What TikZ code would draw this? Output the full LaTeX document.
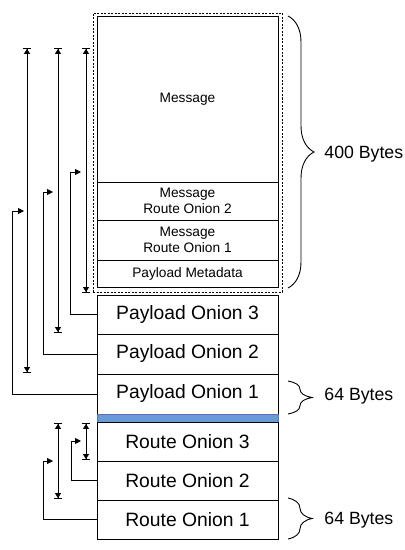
\documentclass[tikz,border=0pt]{standalone}
\usepackage{fontspec}
\setmainfont{Liberation Sans}
\usetikzlibrary{arrows.meta,decorations.pathreplacing}
\definecolor{barblue}{HTML}{6C9BD0}
\definecolor{barline}{HTML}{4A78B5}
\begin{document}
\begin{tikzpicture}[x=1bp,y=-1bp,line width=0.9bp,
  box/.style={draw,minimum width=181bp,inner sep=0pt,outer sep=0pt,font=\fontsize{19.3bp}{22bp}\selectfont},
  sbox/.style={draw,minimum width=181bp,inner sep=0pt,outer sep=0pt,align=center,font=\fontsize{13.7bp}{15.3bp}\selectfont},
  grpbox/.style={draw,line width=0.8bp,dash pattern=on 2bp off 1.5bp,minimum width=189bp,minimum height=279bp,inner sep=0pt,outer sep=0pt},
  dimarrow/.style={{Bar[width=8bp]Triangle[length=5bp,width=6bp]}-{Triangle[length=5bp,width=6bp]Bar[width=8bp]}},
  elbow/.style={-{Triangle[length=6bp,width=6bp]}},
  curly/.style={decorate,decoration={brace,amplitude=#1,aspect=0.5}},
  bytes/.style={anchor=west,inner sep=0pt,font=\fontsize{17.7bp}{20bp}\selectfont}
]
\useasboundingbox (0,0) rectangle (404,550);

% group of the 400 bytes
\node[grpbox] (grp) at (187.5,152.5) {};
\node[sbox,minimum height=166bp] (msg) at (187.5,99) {Message};
\node[sbox,minimum height=38bp] (mro2) at (187.5,201) {Message\\Route Onion 2};
\node[sbox,minimum height=40bp] (mro1) at (187.5,240) {Message\\Route Onion 1};
\node[sbox,minimum height=27bp] (pmeta) at (187.5,273.5) {Payload Metadata};

% payload onions
\node[box,minimum height=39bp] (po3) at (187.5,314.5) {Payload Onion 3};
\node[box,minimum height=40bp] (po2) at (187.5,354) {Payload Onion 2};
\node[box,minimum height=40bp] (po1) at (187.5,394) {Payload Onion 1};

% separator
\node[draw=barline,fill=barblue,line width=0.8bp,minimum width=181bp,minimum height=8bp,inner sep=0pt,outer sep=0pt] (sep) at (187.5,418) {};

% route onions
\node[box,minimum height=39bp] (ro3) at (187.5,441.5) {Route Onion 3};
\node[box,minimum height=39bp] (ro2) at (187.5,480.5) {Route Onion 2};
\node[box,minimum height=39bp] (ro1) at (187.5,519.5) {Route Onion 1};

% dimension arrows (payload)
\coordinate (t3) at (86,48);  \coordinate (b3) at (86,293);
\coordinate (t2) at (58,48);  \coordinate (b2) at (58,333);
\coordinate (t1) at (27,48);  \coordinate (b1) at (27,373);
\draw[dimarrow] (t3) -- (b3);
\draw[dimarrow] (t2) -- (b2);
\draw[dimarrow] (t1) -- (b1);

% dimension arrows (route)
\coordinate (rt3) at (86,423); \coordinate (rb3) at (86,460);
\coordinate (rt2) at (58,423); \coordinate (rb2) at (58,499);
\draw[dimarrow] (rt3) -- (rb3);
\draw[dimarrow] (rt2) -- (rb2);

% elbow arrows (payload)
\coordinate (e3) at (81,172);
\coordinate (e2) at (53,192);
\coordinate (e1) at (24,211);
\draw[elbow] (po3.west) -| (70,172) -- (e3);
\draw[elbow] (po2.west) -| (43,192) -- (e2);
\draw[elbow] (po1.west) -| (12,211) -- (e1);

% elbow arrows (route)
\coordinate (re2) at (81,441);
\coordinate (re1) at (53,461);
\draw[elbow] (ro2.west) -| (71,441) -- (re2);
\draw[elbow] (ro1.west) -| (43,461) -- (re1);

% braces and labels
\draw[curly=26bp] (288,16) -- (288,288);
\node[bytes] (l400) at (324,154) {400 Bytes};
\draw[curly=24bp] (288,381) -- (288,414);
\node[bytes] (l64a) at (324,396) {64 Bytes};
\draw[curly=24bp] (288,498) -- (288,539);
\node[bytes] (l64b) at (324,520) {64 Bytes};
\end{tikzpicture}
\end{document}
